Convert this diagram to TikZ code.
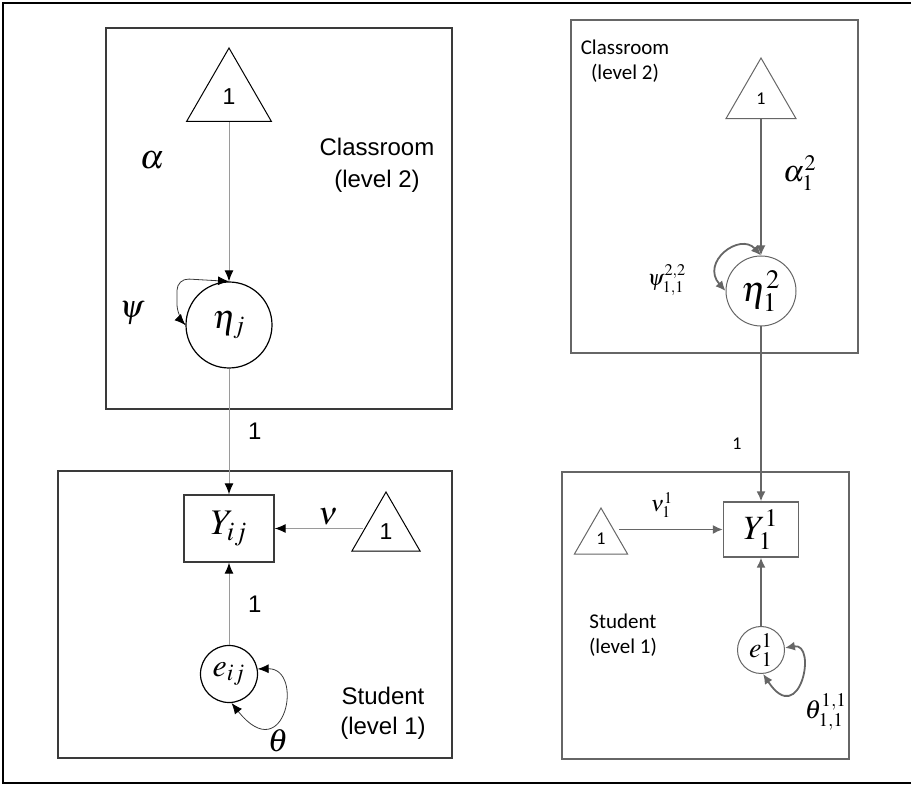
\documentclass[tikz,border=0pt]{standalone}
\usepackage{mathptmx}
\usepackage[no-math]{fontspec}
\setmainfont{Liberation Sans}
\newfontfamily\calibrifont{Carlito}
\usetikzlibrary{shapes.geometric, arrows.meta, positioning, calc}
\definecolor{sem-dark}{HTML}{3A3A3A}
\definecolor{sem-gray}{HTML}{666666}
\definecolor{sem-light}{HTML}{9A9A9A}

\begin{document}
\begin{tikzpicture}[
    x=0.5pt, y=-0.5pt,
    outerframe/.style={draw, line width=1.3pt},
    lbox/.style={draw=sem-dark, line width=0.7pt},
    rbox/.style={draw=sem-gray, line width=0.6pt},
    lconst/.style={draw, regular polygon, regular polygon sides=3, inner sep=0pt, line width=0.5pt, font=\fontsize{11.5}{13}\selectfont},
    rconst/.style={draw=sem-gray, regular polygon, regular polygon sides=3, inner sep=0pt, line width=0.5pt, font=\calibrifont\fontsize{9}{11}\selectfont},
    llatent/.style={draw, circle, inner sep=0pt, line width=0.6pt},
    rlatent/.style={draw=sem-gray, circle, inner sep=0pt, line width=0.5pt},
    lobs/.style={draw=sem-dark, rectangle, inner sep=0pt, line width=0.7pt, minimum width=45pt, minimum height=33.5pt},
    robs/.style={draw=sem-gray, rectangle, inner sep=0pt, line width=0.6pt, minimum width=37.5pt, minimum height=27.5pt},
    ltext/.style={align=center, font=\fontsize{12}{16}\selectfont},
    rtext/.style={align=center, font=\calibrifont\fontsize{10.5}{12.5}\selectfont},
    lpath/.style={draw=sem-light, line width=0.5pt, -{Latex[length=5.5pt, width=4.5pt, color=black]}},
    lloop/.style={draw=sem-dark, line width=0.4pt, {Latex[length=5.5pt, width=4.5pt, color=black]}-{Latex[length=5.5pt, width=4.5pt, color=black]}},
    rpath/.style={draw=sem-gray, line width=0.9pt, -{Latex[length=5pt, width=4.5pt]}},
    rloop/.style={draw=sem-gray, line width=0.9pt, {Latex[length=5pt, width=4.5pt]}-{Latex[length=5pt, width=4.5pt]}}
]
    \useasboundingbox (0,0) rectangle (911,785);
    \draw[outerframe] (914,3) -- (3,3) -- (3,783) -- (914,783);

    % --- Left model ---
    \draw[lbox] (106,28) rectangle (452,409);
    \draw[lbox] (58,471) rectangle (452,758);

    % Classroom (level 2)
    \node (one_a) [lconst, minimum size=49pt] at (229,97) {1};
    \node (eta) [llatent, minimum size=43pt, font=\fontsize{17}{19}\selectfont] at (229,325) {$\eta_j$};
    \node (alpha) [font=\fontsize{17}{19}\selectfont] at (152,160) {$\alpha$};
    \node (psi) [font=\fontsize{16}{18}\selectfont] at (132,313) {$\psi$};
    \node (class_l) [ltext] at (377,165) {Classroom\\(level 2)};

    % Student (level 1)
    \node (y) [lobs, font=\fontsize{18}{20}\selectfont] at (229,528.5) {$Y_{ij}$};
    \node (one_b) [lconst, minimum size=39.5pt] at (386,531.5) {1};
    \node (e) [llatent, minimum size=28.5pt, font=\fontsize{16}{18}\selectfont] at (229,674) {$e_{ij}$};
    \node (nu) [font=\fontsize{16}{18}\selectfont] at (328,517) {$\nu$};
    \node (theta) [font=\fontsize{16}{18}\selectfont] at (278,741) {$\theta$};
    \node (stud_l) [ltext, font=\fontsize{12}{15}\selectfont] at (383,713) {Student\\(level 1)};

    % --- Right model ---
    \draw[rbox] (571,20) rectangle (858,353);
    \draw[rbox] (562,472) rectangle (849,759);

    % Classroom (level 2)
    \node (one_c) [rconst, minimum size=40.5pt] at (761,98.5) {1};
    \node (eta2) [rlatent, minimum size=35pt, font=\fontsize{18}{20}\selectfont] at (761,291) {$\eta_1^2$};
    \node (alpha2) [font=\fontsize{15}{17}\selectfont] at (800,173) {$\alpha_1^2$};
    \node (psi2) [font=\fontsize{11}{13}\selectfont] at (667,280) {$\psi_{1,1}^{2,2}$};
    \node (class_r) [rtext] at (625,61) {Classroom\\(level 2)};

    % Student (level 1)
    \node (y2) [robs, font=\fontsize{17}{19}\selectfont] at (761,529.5) {$Y_1^1$};
    \node (one_d) [rconst, minimum size=30.7pt] at (601,538.7) {1};
    \node (e2) [rlatent, minimum size=23.5pt, font=\fontsize{14}{16}\selectfont] at (761,650) {$e_1^1$};
    \node (nu2) [font=\fontsize{11}{13}\selectfont] at (662,505) {$\nu_1^1$};
    \node (theta2) [font=\fontsize{13}{15}\selectfont] at (826,712) {$\theta_{1,1}^{1,1}$};
    \node (stud_r) [rtext] at (623,635) {Student\\(level 1)};

    % --- Connections ---
    \draw[lpath] (one_a.south) -- (eta.north);
    \draw[lpath] (eta.south) -- node[right=6pt, font=\fontsize{12}{14}\selectfont] (load_l) {1} (y.north);
    \draw[lpath] (y.east -| one_b.west) -- (y.east);
    \draw[lpath] (e.north) -- node[right=6pt, font=\fontsize{12}{14}\selectfont] (res_l) {1} (y.south);
    \draw[lloop, rounded corners=6pt] (eta.north) -- ++(-52,-3) -- ++(0,38) -- (eta.west);
    \draw[lloop] (e.10) .. controls (305,668) and (285,770) .. (e.-85);

    \draw[rpath] (one_c.south) -- (eta2.north);
    \draw[rpath] (eta2.south) -- node[pos=0.67, left=6pt, font=\calibrifont\fontsize{9}{11}\selectfont] (load_r) {1} (y2.north);
    \draw[rpath] (y2.west -| one_d.east) -- (y2.west);
    \draw[rpath] (e2.north) -- (y2.south);
    \draw[rloop] (eta2.north) .. controls (740,232) and (700,262) .. (eta2.west);
    \draw[rloop] (e2.5) .. controls (818,642) and (800,730) .. (e2.-85);

\end{tikzpicture}
\end{document}
